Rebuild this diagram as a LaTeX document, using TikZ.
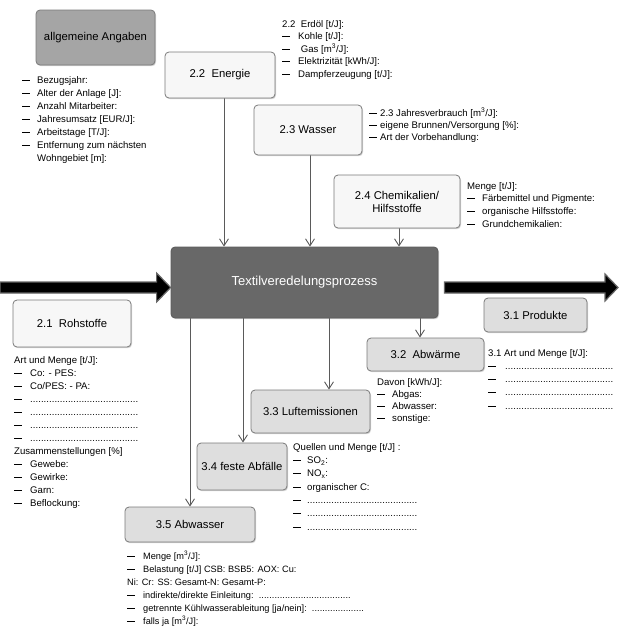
\documentclass[tikz,border=0pt]{standalone}
\usepackage{fontspec}
\setmainfont{Liberation Sans}
\usetikzlibrary{arrows.meta,calc,shadows,backgrounds}

\definecolor{lightboxc}{HTML}{F7F7F7}
\definecolor{outboxc}{HTML}{DEDEDE}
\definecolor{genboxc}{HTML}{A5A5A5}
\definecolor{mainboxc}{HTML}{686868}
\definecolor{edgec}{HTML}{7A7A7A}
\definecolor{arrowc}{HTML}{5A5A5A}

\newcommand\dl[1][15pt]{\makebox[#1][l]{\rule[2.7pt]{8pt}{0.75pt}}}
\newcommand\dotrun[1]{\makebox[#1][l]{\xleaders\hbox{.}\hfill}}
\newcommand\tp{\rule{0pt}{7.5pt}}

\tikzset{
  boxbase/.style={draw=edgec, rounded corners=4pt, line width=0.8pt, align=center,
    font=\fontsize{11.3}{13}\selectfont, inner sep=0pt,
    drop shadow={shadow xshift=1pt, shadow yshift=-1.2pt, opacity=0.35}},
  inbox/.style={boxbase, fill=lightboxc},
  outbox/.style={boxbase, fill=outboxc},
  genbox/.style={boxbase, fill=genboxc},
  mainbox/.style={boxbase, fill=mainboxc, draw=arrowc, text=white, font=\fontsize{13}{15}\selectfont},
  txtlist/.style={anchor=north west, align=left, inner sep=0pt, font=\fontsize{9.6}{#1}\selectfont},
  txtlist/.default=12.9,
  arr/.style={draw=arrowc, line width=0.9pt, -{Straight Barb[length=7pt,width=9pt]}},
  fat/.style={fill=black, draw=black!60, line width=1.2pt, line join=miter}
}

\begin{document}
\begin{tikzpicture}[x=1pt,y=-1pt]
\useasboundingbox (0,0) rectangle (630,633);

% boxes
\node[genbox, minimum width=119pt, minimum height=55pt] (gen) at (95.5,37.5) {allgemeine Angaben};
\node[inbox, minimum width=110pt, minimum height=46pt] (energie) at (220,75) {2.2\ \ Energie};
\node[inbox, minimum width=108pt, minimum height=50pt] (wasser) at (308,130) {2.3 Wasser};
\node[inbox, minimum width=126pt, minimum height=53pt] (chem) at (397,201.5) {2.4 Chemikalien/\\Hilfsstoffe};
\node[mainbox, minimum width=267pt, minimum height=71pt] (main) at (304.5,282.5) {Textilveredelungsprozess};
\node[inbox, minimum width=118pt, minimum height=47pt] (roh) at (72,323.5) {2.1\ \ Rohstoffe};
\node[outbox, minimum width=103pt, minimum height=34pt] (prod) at (535.5,315) {3.1 Produkte};
\node[outbox, minimum width=117pt, minimum height=33pt] (abw) at (425.5,354.5) {3.2\ \ Abwärme};
\node[outbox, minimum width=119pt, minimum height=43pt] (luft) at (310.5,411.5) {3.3 Luftemissionen};
\node[outbox, minimum width=90pt, minimum height=47pt] (fest) at (242,466.5) {3.4 feste Abfälle};
\node[outbox, minimum width=130pt, minimum height=35pt] (abwasser) at (190,524.5) {3.5 Abwasser};

% connectors
\begin{scope}[on background layer]
\draw[arr] ([xshift=4pt]energie.south) -- ([xshift=4pt]energie.south |- main.north);
\draw[arr] ([xshift=2pt]wasser.south) -- ([xshift=2pt]wasser.south |- main.north);
\draw[arr] ([xshift=2pt]chem.south) -- ([xshift=2pt]chem.south |- main.north);
\draw[arr] (main.south -| abwasser.north) -- (abwasser.north);
\draw[arr] ([xshift=1pt]main.south -| fest.north) -- ([xshift=1pt]fest.north);
\draw[arr] ([xshift=24.5pt]main.south) -- ([xshift=24.5pt]main.south |- luft.north);
\draw[arr] ([xshift=115.5pt]main.south) -- ([xshift=115.5pt]main.south |- abw.north);
\end{scope}

% fat arrows
\coordinate (inL) at (0,287.5);
\coordinate (tipL) at ($(main.west)+(0,5)$);
\filldraw[fat] ($(inL)+(0,-5.5)$) -- ($(tipL)+(-14,-5.5)$) -- ($(tipL)+(-14,-14.5)$) -- (tipL)
  -- ($(tipL)+(-14,14.5)$) -- ($(tipL)+(-14,5.5)$) -- ($(inL)+(0,5.5)$) -- cycle;
\coordinate (sR) at ($(main.east)+(6,5)$);
\coordinate (tipR) at (618,287.5);
\filldraw[fat] ($(sR)+(0,-5.5)$) -- ($(tipR)+(-13,-5.5)$) -- ($(tipR)+(-13,-13.5)$) -- (tipR)
  -- ($(tipR)+(-13,13.5)$) -- ($(tipR)+(-13,5.5)$) -- ($(sR)+(0,5.5)$) -- cycle;

% text lists
\node[txtlist=13] (tgen) at (22,75.5) {\tp\dl Bezugsjahr:\\
\dl Alter der Anlage [J]:\\
\dl Anzahl Mitarbeiter:\\
\dl Jahresumsatz [EUR/J]:\\
\dl Arbeitstage [T/J]:\\
\dl Entfernung zum nächsten\\
\hspace*{15pt}Wohngebiet [m]:};

\node[txtlist=12.5] (tenergie) at (282,19.5) {\tp 2.2\ \ Erdöl [t/J]:\\
\dl[16pt]Kohle [t/J]:\\
\dl[16pt]\ Gas [m\textsuperscript{3}/J]:\\
\dl[16pt]Elektrizität [kWh/J]:\\
\dl[16pt]Dampferzeugung [t/J]:};

\node[txtlist=12.3] (twasser) at (369,107.5) {\tp\dl[11pt]2.3 Jahresverbrauch [m\textsuperscript{3}/J]:\\
\dl[11pt]eigene Brunnen/Versorgung [\%]:\\
\dl[11pt]Art der Vorbehandlung:};

\node[txtlist=12.7] (tchem) at (467,181.5) {\tp Menge [t/J]:\\
\dl Färbemittel und Pigmente:\\
\dl organische Hilfsstoffe:\\
\dl Grundchemikalien:};

\node[txtlist=13] (troh) at (14,356) {\tp Art und Menge [t/J]:\\
\dl[16pt]Co: - PES:\\
\dl[16pt]Co/PES: - PA:\\
\dl[16pt]\dotrun{108pt}\\
\dl[16pt]\dotrun{108pt}\\
\dl[16pt]\dotrun{108pt}\\
\dl[16pt]\dotrun{108pt}\\
Zusammenstellungen [\%]\\
\dl[16pt]Gewebe:\\
\dl[16pt]Gewirke:\\
\dl[16pt]Garn:\\
\dl[16pt]Beflockung:};

\node[txtlist=13.2] (tprod) at (488,348.5) {\tp 3.1 Art und Menge [t/J]:\\
\dl[17pt]\dotrun{108pt}\\
\dl[17pt]\dotrun{108pt}\\
\dl[17pt]\dotrun{108pt}\\
\dl[17pt]\dotrun{108pt}};

\node[txtlist=12] (tabw) at (377,377.5) {\tp Davon [kWh/J]:\\
\dl Abgas:\\
\dl Abwasser:\\
\dl sonstige:};

\node[txtlist=13.3] (tluft) at (293,442.5) {\tp Quellen und Menge [t/J] :\\
\dl[14pt]SO\textsubscript{2}:\\
\dl[14pt]NO\textsubscript{x}:\\
\dl[14pt]organischer C:\\
\dl[14pt]\dotrun{110pt}\\
\dl[14pt]\dotrun{110pt}\\
\dl[14pt]\dotrun{110pt}};

\node[txtlist=13, font=\fontsize{9.2}{13}\selectfont] (tabwasser) at (127,550.5) {\tp\dl[16pt]Menge [m\textsuperscript{3}/J]:\\
\dl[16pt]Belastung [t/J] CSB: BSB5: AOX: Cu:\\
Ni: Cr: SS: Gesamt-N: Gesamt-P:\\
\dl[16pt]indirekte/direkte Einleitung:\ \ \dotrun{92pt}\\
\dl[16pt]getrennte Kühlwasserableitung [ja/nein]:\ \ \dotrun{52pt}\\
\dl[16pt]falls ja [m\textsuperscript{3}/J]:};
\end{tikzpicture}
\end{document}
